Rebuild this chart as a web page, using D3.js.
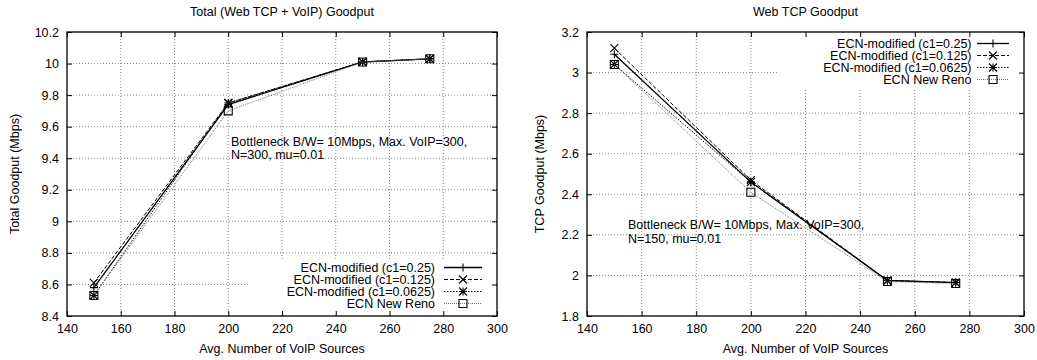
<!DOCTYPE html>
<html>
<head>
<meta charset="utf-8">
<script src="https://cdn.jsdelivr.net/npm/d3@7"></script>
<style>
  body { margin: 0; background: #fff; }
  text { font-family: "Liberation Sans", Arial, sans-serif; font-size: 12.5px; fill: #000; }
</style>
</head>
<body>
<svg width="1037" height="360"></svg>
<script>
// data
var voipSources = [150, 200, 250, 275];
var seriesNames = ["ECN-modified (c1=0.25)", "ECN-modified (c1=0.125)", "ECN-modified (c1=0.0625)", "ECN New Reno"];

var totalC1_25   = [8.58, 9.74, 10.01, 10.03];
var totalC1_125  = [8.61, 9.75, 10.01, 10.03];
var totalC1_0625 = [8.53, 9.75, 10.01, 10.03];
var totalReno    = [8.53, 9.70, 10.01, 10.03];

var tcpC1_25   = [3.09, 2.46, 1.975, 1.965];
var tcpC1_125  = [3.12, 2.47, 1.975, 1.965];
var tcpC1_0625 = [3.04, 2.46, 1.975, 1.965];
var tcpReno    = [3.04, 2.41, 1.970, 1.960];

var xTicks = [140, 160, 180, 200, 220, 240, 260, 280, 300];
var totalTicks = [8.4, 8.6, 8.8, 9, 9.2, 9.4, 9.6, 9.8, 10, 10.2];
var tcpTicks = [1.8, 2, 2.2, 2.4, 2.6, 2.8, 3, 3.2];

// line styles per series (gnuplot mono look)
var styles = [
  {stroke: "#000", dash: null, width: 1.3, mark: "plus"},
  {stroke: "#000", dash: "4,2", width: 1, mark: "cross"},
  {stroke: "#000", dash: "1.5,1.5", width: 1, mark: "star"},
  {stroke: "#777", dash: "1,1", width: 1, mark: "box"}
];

var svg = d3.select("svg");

function marker(g, type, x, y) {
  var s = 4;
  var p = d3.path();
  if (type == "plus" || type == "star") {
    p.moveTo(x - s, y); p.lineTo(x + s, y);
    p.moveTo(x, y - s); p.lineTo(x, y + s);
  }
  if (type == "cross" || type == "star") {
    p.moveTo(x - s, y - s); p.lineTo(x + s, y + s);
    p.moveTo(x - s, y + s); p.lineTo(x + s, y - s);
  }
  if (type == "box") {
    p.rect(x - s, y - s, 2 * s, 2 * s);
  }
  g.append("path").attr("d", p.toString())
    .attr("fill", "none").attr("stroke", "#000").attr("stroke-width", 1.1);
}

function drawPanel(cfg) {
  var g = svg.append("g");
  var x = d3.scaleLinear().domain([140, 300]).range([cfg.left, cfg.right]);
  var y = d3.scaleLinear().domain(cfg.yDomain).range([316, 32]);

  // grid
  g.append("g").selectAll("line").data(xTicks.slice(1, -1)).join("line")
    .attr("x1", d => x(d)).attr("x2", d => x(d))
    .attr("y1", y.range()[0]).attr("y2", y.range()[1])
    .attr("stroke", "#888").attr("stroke-dasharray", "1,2").attr("stroke-width", 1);
  g.append("g").selectAll("line").data(cfg.yTicks.slice(1, -1)).join("line")
    .attr("y1", d => y(d)).attr("y2", d => y(d))
    .attr("x1", cfg.left).attr("x2", cfg.right)
    .attr("stroke", "#888").attr("stroke-dasharray", "1,2").attr("stroke-width", 1);

  // key area hides the grid
  g.append("rect").attr("x", cfg.key.x0).attr("y", cfg.key.y0)
    .attr("width", cfg.key.x1 - cfg.key.x0).attr("height", cfg.key.y1 - cfg.key.y0)
    .attr("fill", "#fff");

  // axes (ticks inward, mirrored)
  var xb = d3.axisBottom(x).tickValues(xTicks).tickSize(-5).tickPadding(8);
  var xt = d3.axisTop(x).tickValues(xTicks).tickSize(-5).tickFormat("");
  var yl = d3.axisLeft(y).tickValues(cfg.yTicks).tickSize(-5).tickPadding(8).tickFormat(d => String(+d.toFixed(1)));
  var yr = d3.axisRight(y).tickValues(cfg.yTicks).tickSize(-5).tickFormat("");
  [[xb, "translate(0,316)"], [xt, "translate(0,32)"], [yl, "translate(" + cfg.left + ",0)"], [yr, "translate(" + cfg.right + ",0)"]]
    .forEach(function(a) {
      var ax = g.append("g").attr("transform", a[1]).call(a[0]);
      ax.select(".domain").remove();
      ax.selectAll("line").attr("stroke", "#000");
      ax.selectAll("text").style("font-size", "12.5px").attr("font-family", null);
    });
  g.append("rect").attr("x", cfg.left).attr("y", 32)
    .attr("width", cfg.right - cfg.left).attr("height", 284)
    .attr("fill", "none").attr("stroke", "#000").attr("stroke-width", 1.3);

  // series
  var line = d3.line().x((d, i) => x(voipSources[i])).y(d => y(d));
  cfg.series.forEach(function(vals, k) {
    var st = styles[k];
    g.append("path").attr("d", line(vals)).attr("fill", "none")
      .attr("stroke", st.stroke).attr("stroke-width", st.width)
      .attr("stroke-dasharray", st.dash);
    vals.forEach(function(v, i) { marker(g, st.mark, x(voipSources[i]), y(v)); });
  });

  // legend
  seriesNames.forEach(function(name, k) {
    var st = styles[k];
    var ry = cfg.key.rowY + k * 12;
    g.append("text").attr("x", cfg.key.textX).attr("y", ry).attr("dy", "0.35em")
      .attr("text-anchor", "end").text(name);
    g.append("line").attr("x1", cfg.key.lineX0).attr("x2", cfg.key.lineX1)
      .attr("y1", ry).attr("y2", ry)
      .attr("stroke", st.stroke).attr("stroke-width", st.width).attr("stroke-dasharray", st.dash);
    marker(g, st.mark, (cfg.key.lineX0 + cfg.key.lineX1) / 2, ry);
  });

  // annotation
  cfg.note.forEach(function(t, i) {
    g.append("text").attr("x", cfg.noteX).attr("y", cfg.noteY + i * 13.5).attr("dy", "0.35em").text(t);
  });

  // titles
  var cx = (cfg.left + cfg.right) / 2;
  g.append("text").attr("x", cx).attr("y", 12).attr("dy", "0.35em")
    .attr("text-anchor", "middle").text(cfg.title);
  g.append("text").attr("x", cx).attr("y", 349).attr("dy", "0.35em")
    .attr("text-anchor", "middle").text("Avg. Number of VoIP Sources");
  g.append("text").attr("transform", "translate(" + cfg.yLabelX + ",174) rotate(-90)")
    .attr("dy", "0.35em").attr("text-anchor", "middle").text(cfg.yLabel);
}

drawPanel({
  left: 67, right: 497, yDomain: [8.4, 10.2], yTicks: totalTicks,
  series: [totalC1_25, totalC1_125, totalC1_0625, totalReno],
  title: "Total (Web TCP + VoIP) Goodput", yLabel: "Total Goodput (Mbps)", yLabelX: 15,
  key: {x0: 250, x1: 496, y0: 260, y1: 315, rowY: 267.5, textX: 435, lineX0: 444, lineX1: 482},
  note: ["Bottleneck B/W= 10Mbps, Max. VoIP=300,", "N=300, mu=0.01"], noteX: 231, noteY: 141.5
});

drawPanel({
  left: 587, right: 1024, yDomain: [1.8, 3.2], yTicks: tcpTicks,
  series: [tcpC1_25, tcpC1_125, tcpC1_0625, tcpReno],
  title: "Web TCP Goodput", yLabel: "TCP Goodput (Mbps)", yLabelX: 540,
  key: {x0: 777, x1: 1023, y0: 33, y1: 88, rowY: 43.5, textX: 971.5, lineX0: 977, lineX1: 1009},
  note: ["Bottleneck B/W= 10Mbps, Max. VoIP=300,", "N=150, mu=0.01"], noteX: 628, noteY: 225
});
</script>
</body>
</html>
